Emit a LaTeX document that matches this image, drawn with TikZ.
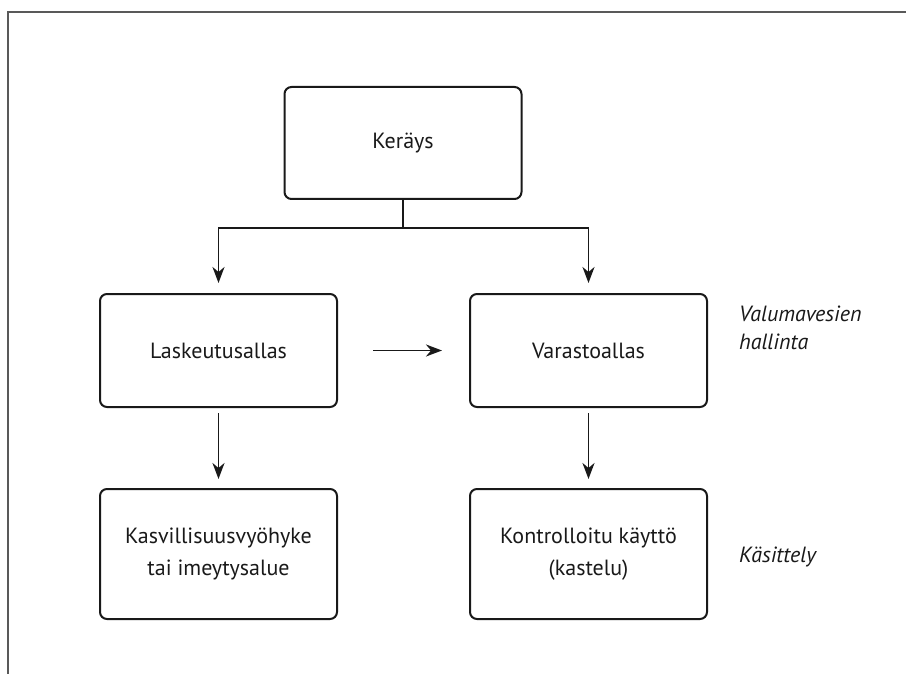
\documentclass[tikz,border=0pt]{standalone}
\usepackage{fontspec}
\setmainfont{PT Sans}
\usetikzlibrary{arrows.meta}
\tikzset{
  box/.style={draw=black!90, line width=2pt, rounded corners=7pt, minimum width=237pt, align=center, inner sep=0pt, font=\fontsize{22}{32}\selectfont, text=black!90},
  arr/.style={draw=black!90, line width=1.9pt, -{Stealth[length=16pt,width=12pt,inset=5pt]}},
  side/.style={anchor=base west, align=left, inner sep=0pt, font=\fontsize{22}{28}\selectfont\itshape, text=black!90},
  frame/.style={draw=black!65, line width=1.8pt}
}
\begin{document}
\begin{tikzpicture}[x=1pt,y=-1pt]
\useasboundingbox (0,0) rectangle (906,674);
\coordinate (f1) at (8,674);
\coordinate (f2) at (8,12);
\coordinate (f3) at (906,12);
\draw[frame] (f1) -- (f2) -- (f3);

\node[box, minimum height=112pt] (ker) at (403,143) {Keräys};
\node[box, minimum height=113pt] (las) at (218.5,350.5) {Laskeutusallas};
\node[box, minimum height=113pt] (var) at (588.5,350.5) {Varastoallas};
\node[box, minimum height=130pt] (kas) at (218.5,554) {Kasvillisuusvyöhyke\\tai imeytysalue};
\node[box, minimum height=130pt] (kon) at (588.5,554) {Kontrolloitu käyttö\\(kastelu)};

\node[side] (val) at (739,349) {Valumavesien\\hallinta};
\node[side] (kas2) at (739,562) {Käsittely};

\coordinate (br) at (403,228);
\draw[draw=black!90, line width=1.9pt] (ker.south) -- (br);
\draw[arr, shorten >=10pt] (br) -| (las.north);
\draw[arr, shorten >=10pt] (br) -| (var.north);
\draw[arr, shorten <=35pt, shorten >=27pt] (las.east) -- (var.west);
\draw[arr, shorten <=5pt, shorten >=9pt] (las.south) -- (kas.north);
\draw[arr, shorten <=5pt, shorten >=9pt] (var.south) -- (kon.north);
\end{tikzpicture}
\end{document}
